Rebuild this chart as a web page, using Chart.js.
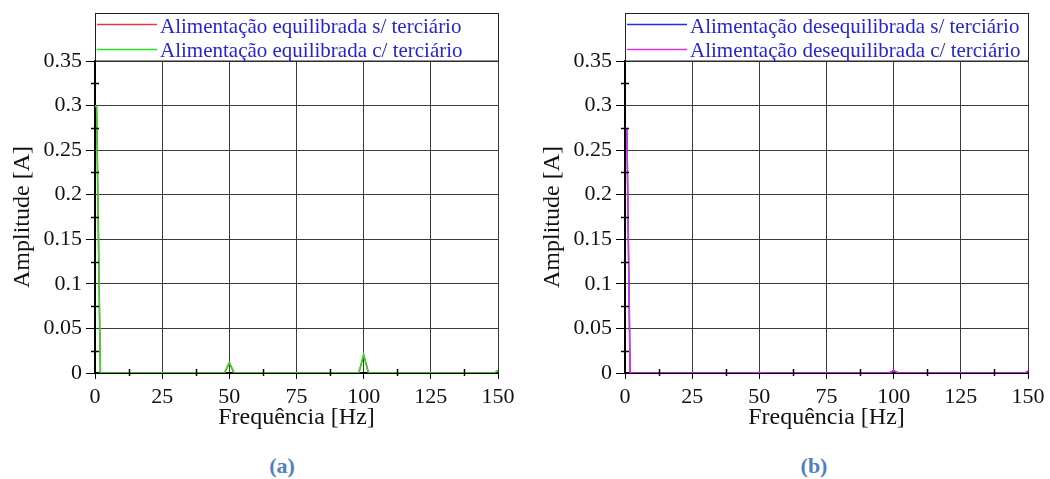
<!DOCTYPE html>
<html><head><meta charset="utf-8">
<script src="https://cdn.jsdelivr.net/npm/chart.js@4.4.1/dist/chart.umd.min.js"></script>
<style>
html,body{margin:0;padding:0;background:#fff;width:1050px;height:479px;overflow:hidden;}
.c{position:absolute;top:0;}
.cap{position:absolute;top:453px;font:bold 22px "Liberation Serif","Times New Roman",serif;color:#4f81bd;transform:translateX(-50%);}
</style></head><body>
<canvas id="ca" class="c" style="left:0" width="520" height="440"></canvas>
<canvas id="cb" class="c" style="left:530px" width="520" height="440"></canvas>
<div class="cap" style="left:282px">(a)</div>
<div class="cap" style="left:814px">(b)</div>
<script>
// ---- data ----
const freqA    = [0, 0.6, 2.0, 48.2, 50, 51.8, 98.2, 100, 101.8, 148.8, 150];
const redA     = [0.299, 0.298, 0, 0, 0.011, 0, 0, 0.020, 0, 0, 0.003];
const greenA   = [0.300, 0.299, 0, 0, 0.012, 0, 0, 0.021, 0, 0, 0.003];
const freqB    = [0, 0.7, 1.9, 48.2, 50, 51.8, 98.2, 100, 101.8, 148.8, 150];
const blueB    = [0.274, 0.273, 0, 0, 0.0005, 0, 0, 0.0025, 0, 0, 0.002];
const magentaB = [0.275, 0.274, 0, 0, 0.0005, 0, 0, 0.0026, 0, 0, 0.002];

const labelsA = ['Alimentação equilibrada s/ terciário', 'Alimentação equilibrada c/ terciário'];
const labelsB = ['Alimentação desequilibrada s/ terciário', 'Alimentação desequilibrada c/ terciário'];
const xTickLabels = ['0','25','50','75','100','125','150'];
const yTickLabels = ['0','0.05','0.1','0.15','0.2','0.25','0.3','0.35'];
const xMinorTicks = [12.5, 37.5, 62.5, 87.5, 112.5, 137.5];
const yMinorTicks = [0.025, 0.075, 0.125, 0.175, 0.225, 0.275, 0.325];
const xTitle = 'Frequência [Hz]';
const yTitle = 'Amplitude [A]';

const FONT = '"Liberation Serif","Times New Roman",serif';

function pts(xs, ys){ return xs.map((x,i)=>({x:x, y:ys[i]})); }

const boxLegend = {
  id:'boxLegend',
  afterDraw(chart){
    const {ctx, chartArea:a} = chart;
    ctx.save();
    ctx.strokeStyle = '#222'; ctx.lineWidth = 1;
    ctx.strokeRect(a.left + 0.5, 13.5, a.right - a.left, a.top - 13.5);
    const lineY = [24.5, 49.5];
    const baseY = [33, 57];
    chart.data.datasets.forEach((ds, i) => {
      ctx.strokeStyle = ds.borderColor; ctx.lineWidth = 1.5;
      ctx.beginPath(); ctx.moveTo(a.left + 2, lineY[i]); ctx.lineTo(a.left + 62, lineY[i]); ctx.stroke();
      ctx.fillStyle = '#2424d8';
      ctx.font = '21px ' + FONT;
      ctx.textBaseline = 'alphabetic'; ctx.textAlign = 'left';
      ctx.fillText(ds.label, a.left + 65, baseY[i]);
    });
    // minor ticks crossing the axes
    const xs = chart.scales.x, ys = chart.scales.y;
    ctx.strokeStyle = '#000'; ctx.lineWidth = 1.5;
    xMinorTicks.forEach(v => {
      const px = Math.round(xs.getPixelForValue(v)) + 0.5;
      ctx.beginPath(); ctx.moveTo(px, a.bottom - 4); ctx.lineTo(px, a.bottom + 3); ctx.stroke();
    });
    yMinorTicks.forEach(v => {
      const py = Math.round(ys.getPixelForValue(v)) + 0.5;
      ctx.beginPath(); ctx.moveTo(a.left - 4, py); ctx.lineTo(a.left + 4, py); ctx.stroke();
    });
    ctx.restore();
  }
};

function make(id, xs, s1, s2, labels, c1, c2){
  return new Chart(document.getElementById(id), {
    type: 'line',
    data: { datasets: [
      { label: labels[0], data: pts(xs, s1), borderColor: c1, borderWidth: 1.5, pointRadius: 0, tension: 0, order: 1 },
      { label: labels[1], data: pts(xs, s2), borderColor: c2, borderWidth: 1.5, pointRadius: 0, tension: 0, order: 0 }
    ]},
    options: {
      responsive: false, animation: false, devicePixelRatio: 1,
      layout: { padding: { top: 61, right: 22, left: 0, bottom: 0 } },
      plugins: { legend: { display: false }, tooltip: { enabled: false } },
      scales: {
        x: {
          type: 'linear', min: 0, max: 150,
          afterFit: s => { s.height = 67; },
          ticks: { stepSize: 25, padding: 5, color: '#111', font: { family: FONT, size: 22 },
                   callback: (v, i) => xTickLabels[i] },
          grid: { color: '#3a3a3a', lineWidth: 1, tickLength: 6, tickColor: '#000' },
          border: { color: '#000', width: 2 },
          title: { display: true, text: xTitle, color: '#111', font: { family: FONT, size: 24 }, padding: { top: 0, bottom: 8 } }
        },
        y: {
          type: 'linear', min: 0, max: 0.35,
          afterFit: s => { s.width = 95; },
          ticks: { stepSize: 0.05, padding: 4, color: '#111', font: { family: FONT, size: 22 },
                   callback: (v, i) => yTickLabels[i] },
          grid: { color: '#3a3a3a', lineWidth: 1, tickLength: 9, tickColor: '#000' },
          border: { color: '#000', width: 2 },
          title: { display: true, text: yTitle, color: '#111', font: { family: FONT, size: 24 }, padding: { top: 8, bottom: 0 } }
        }
      }
    },
    plugins: [boxLegend]
  });
}

make('ca', freqA, redA, greenA, labelsA, '#e03a3a', '#22e022');
make('cb', freqB, blueB, magentaB, labelsB, '#2a2ae0', '#e030e0');
</script>
</body></html>
